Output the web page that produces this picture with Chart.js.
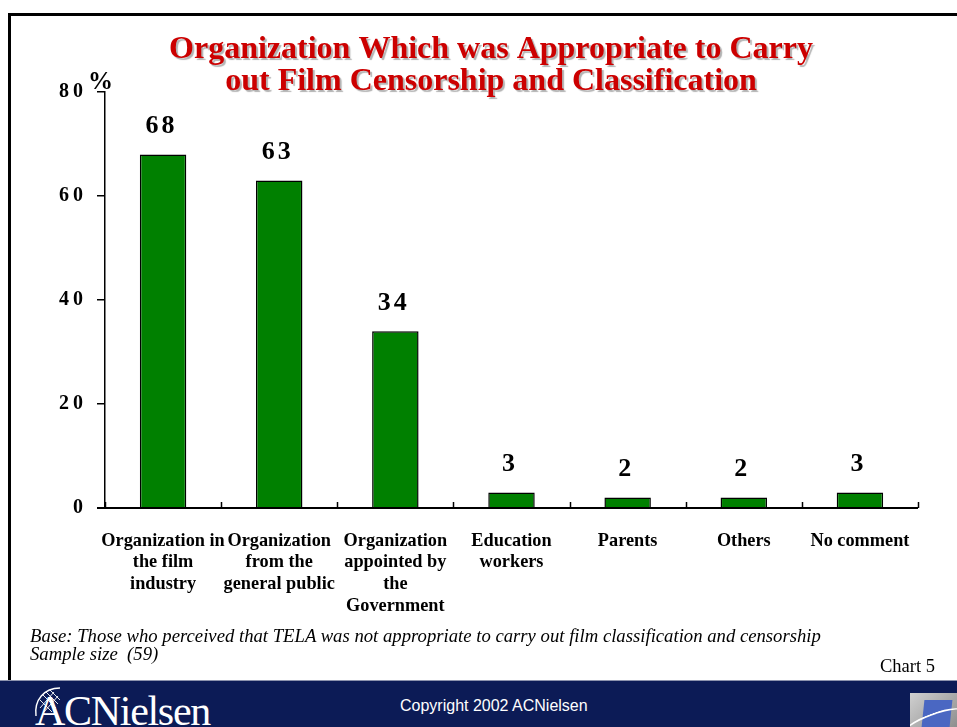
<!DOCTYPE html>
<html>
<head>
<meta charset="utf-8">
<script src="https://cdn.jsdelivr.net/npm/chart.js@4"></script>
<style>
  html, body { margin: 0; padding: 0; background: #fff; }
  #wrap { position: relative; width: 957px; height: 727px; overflow: hidden; }
  #frame { position: absolute; left: 8px; top: 13px; width: 960px; height: 680px; border-left: 3px solid #000; border-top: 3px solid #000; box-sizing: border-box; }
  canvas { position: absolute; left: 0; top: 0; }
  .note { position: absolute; font-family: "Liberation Serif", "Times New Roman", serif; color: #000; white-space: nowrap; }
  #base { left: 30px; top: 627px; font-style: italic; font-size: 18.7px; line-height: 17.5px; }
  #chartno { right: 22px; top: 656px; font-size: 18.5px; }
  #footer { position: absolute; left: 0; top: 680px; width: 957px; height: 47px; background: #0c1b56; border-top: 1px solid #8d93ad; box-sizing: border-box; }
  #logo { position: absolute; left: 35px; top: 690px; color: #fff; font-family: "Liberation Serif", "Times New Roman", serif; font-size: 42px; letter-spacing: -1.3px; line-height: 42px; }
  #copy { position: absolute; left: 400px; top: 697px; color: #fff; font-family: "Liberation Sans", Arial, sans-serif; font-size: 16px; }
  #globe { position: absolute; left: 30px; top: 684px; }
  #corner { position: absolute; left: 910px; top: 693px; width: 47px; height: 34px; background: linear-gradient(135deg, #d0d0d0, #8e8e8e); overflow: hidden; }
  #corner .sq { position: absolute; left: 13px; top: 7px; width: 28px; height: 27px; background: #4a67c2; transform: skewX(-6deg); }
  #corner .sw { position: absolute; left: -10px; top: 20px; width: 70px; height: 20px; border-top: 2px solid #fff; border-radius: 50%; transform: rotate(-20deg); }
</style>
</head>
<body>
<div id="wrap">
  <div id="frame"></div>
  <canvas id="c" width="957" height="727"></canvas>
  <div class="note" id="base">Base: Those who perceived that TELA was not appropriate to carry out film classification and censorship<br>Sample size&nbsp; (59)</div>
  <div class="note" id="chartno">Chart 5</div>
  <div id="footer"></div>
  <svg id="globe" width="40" height="42" viewBox="0 0 40 42">
    <path d="M30 4 C14 4 4 16 6 32" stroke="#fff" stroke-width="1.4" fill="none"/>
    <path d="M12 10 L26 24 M10 16 L22 28 M16 8 L28 20 M20 6 L30 16" stroke="#fff" stroke-width="0.9" fill="none"/>
    <path d="M10 24 L24 8 M14 28 L28 12" stroke="#fff" stroke-width="0.9" fill="none"/>
  </svg>
  <div id="logo">ACNielsen</div>
  <div id="copy">Copyright 2002 ACNielsen</div>
  <div id="corner"><div class="sq"></div><div class="sw"></div></div>
</div>
<script>
const titleLines = ["Organization Which was Appropriate to Carry", "out Film Censorship and Classification"];
const categories = [
  ["Organization in", "the film", "industry"],
  ["Organization", "from the", "general public"],
  ["Organization", "appointed by", "the", "Government"],
  ["Education", "workers"],
  ["Parents"],
  ["Others"],
  ["No comment"]
];
const values = [68, 63, 34, 3, 2, 2, 3];
const yTicks = [0, 20, 40, 60, 80];
const yUnit = "%";

const SERIF = "'Liberation Serif', 'Times New Roman', serif";

const extrasPlugin = {
  id: 'extras',
  afterLayout(chart) {
    if (chart.titleBlock && !chart.titleBlock._shadowWrapped) {
      const tb = chart.titleBlock;
      const orig = tb.draw.bind(tb);
      tb.draw = function (area) {
        const ctx = chart.ctx;
        ctx.save();
        ctx.shadowColor = 'rgba(0,0,0,0.3)';
        ctx.shadowOffsetX = 2;
        ctx.shadowOffsetY = 2;
        ctx.shadowBlur = 1;
        orig(area);
        ctx.restore();
      };
      tb._shadowWrapped = true;
    }
    const ys = chart.scales.y;
    if (ys && !ys._lsWrapped) {
      ys._computeLabelArea = function () { return undefined; };
      const origL = ys.drawLabels.bind(ys);
      ys.drawLabels = function (area) {
        const ctx = chart.ctx;
        ctx.save();
        ctx.letterSpacing = '4px';
        origL(area);
        ctx.restore();
      };
      ys._lsWrapped = true;
    }
  },
  afterDatasetsDraw(chart) {
    const ctx = chart.ctx;
    const xs = chart.scales.x, ys = chart.scales.y;
    const area = chart.chartArea;
    ctx.save();
    ctx.strokeStyle = '#000';
    ctx.lineWidth = 2;
    ctx.beginPath();
    ctx.moveTo(area.left - 8, ys.getPixelForValue(0));
    ctx.lineTo(area.right, ys.getPixelForValue(0));
    ctx.stroke();
    ctx.lineWidth = 1.5;
    for (let i = 0; i <= categories.length; i++) {
      const x = Math.round(xs.getPixelForValue(i - 0.5)) + 0.5;
      ctx.beginPath();
      ctx.moveTo(x, ys.getPixelForValue(0));
      ctx.lineTo(x, ys.getPixelForValue(0) - 6);
      ctx.stroke();
    }
    ctx.fillStyle = '#000';
    ctx.font = 'bold 26px ' + SERIF;
    ctx.letterSpacing = '3px';
    ctx.textAlign = 'center';
    ctx.textBaseline = 'middle';
    const meta = chart.getDatasetMeta(0);
    meta.data.forEach((bar, i) => {
      ctx.fillText(String(values[i]), bar.x - 1.5, bar.y - 28);
    });
    ctx.letterSpacing = '0px';
    ctx.font = 'bold 25px ' + SERIF;
    ctx.textAlign = 'left';
    ctx.fillText(yUnit, area.left - 17, ys.getPixelForValue(80) - 9);
    ctx.restore();
  }
};

new Chart(document.getElementById('c'), {
  type: 'bar',
  data: {
    labels: categories,
    datasets: [{
      data: values,
      backgroundColor: '#008000',
      borderColor: '#000',
      borderWidth: 1.5,
      categoryPercentage: 0.8,
      barPercentage: 0.5
    }]
  },
  options: {
    responsive: false,
    animation: false,
    events: [],
    layout: { padding: { left: 64, right: 39, top: 0, bottom: 0 } },
    plugins: {
      legend: { display: false },
      tooltip: { enabled: false },
      title: {
        display: true,
        text: titleLines,
        color: '#cc0000',
        font: { family: SERIF, size: 32, weight: 'bold', lineHeight: 1.0 },
        padding: { top: 34, bottom: -6 }
      }
    },
    scales: {
      x: {
        offset: true,
        grid: { display: false },
        border: { display: false },
        ticks: {
          color: '#000',
          padding: 14,
          maxRotation: 0,
          autoSkip: false,
          font: { family: SERIF, size: 18.3, weight: 'bold', lineHeight: 1.19 }
        },
        afterFit(s) { s.height = 219; }
      },
      y: {
        min: 0,
        max: 80,
        afterBuildTicks(s) { s.ticks = yTicks.map(v => ({ value: v })); },
        grid: { drawOnChartArea: false, drawTicks: true, tickLength: 8, color: '#000', lineWidth: 1.5 },
        border: { display: true, color: '#000', width: 1.5 },
        ticks: {
          color: '#000',
          padding: 10,
          font: { family: SERIF, size: 20, weight: 'bold' }
        },
        afterFit(s) { s.width = 41; }
      }
    }
  },
  plugins: [extrasPlugin]
});
</script>
</body>
</html>
